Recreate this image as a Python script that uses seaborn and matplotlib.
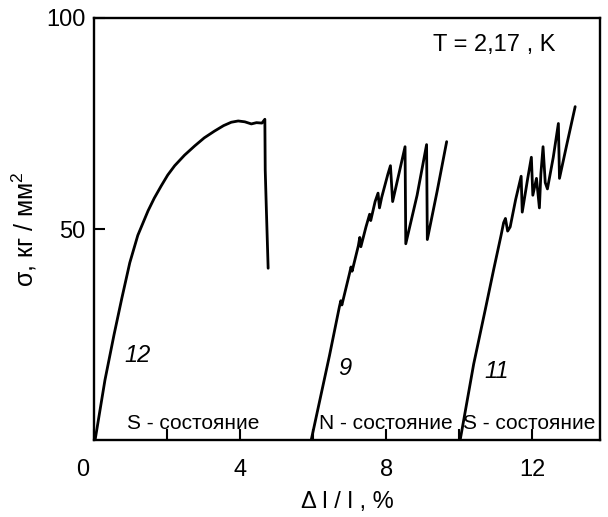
import numpy as np
import pandas as pd
import matplotlib
matplotlib.use("Agg")
import matplotlib.pyplot as plt
import matplotlib.transforms as mtrans
import seaborn as sns

# ---- data ----
c12_x = [0.03, 0.30, 0.55, 0.76, 0.98, 1.20, 1.48, 1.65, 1.84, 2.02, 2.21, 2.48, 2.76, 3.02, 3.30, 3.55,
         3.76, 3.95, 4.13, 4.31, 4.45, 4.60, 4.68, 4.69, 4.72, 4.77]
c12_y = [0.0, 14.2, 25.0, 33.5, 42.0, 48.5, 54.3, 57.3, 60.2, 62.8, 65.0, 67.5, 69.7, 71.6, 73.2, 74.5,
         75.3, 75.6, 75.4, 74.9, 75.2, 75.1, 76.0, 64.0, 55.0, 40.7]

c9_x = [5.95, 6.20, 6.45, 6.72, 6.76, 6.79, 7.00, 7.04, 7.07, 7.24, 7.28, 7.31, 7.45, 7.55, 7.58,
        7.70, 7.78, 7.82, 7.88, 8.05, 8.12, 8.18, 8.35, 8.52, 8.54, 8.85, 9.11, 9.13, 9.40, 9.66]
c9_y = [0.0, 10.0, 20.0, 31.5, 33.0, 32.0, 39.5, 41.0, 40.0, 46.0, 48.0, 45.8, 50.5, 53.5, 52.0,
        56.5, 58.5, 55.0, 57.5, 63.0, 65.0, 56.5, 63.0, 69.5, 46.5, 58.0, 70.0, 47.5, 59.0, 70.7]

c11_x = [10.03, 10.40, 10.72, 10.95, 11.15, 11.22, 11.27, 11.33, 11.40, 11.55, 11.70, 11.73, 11.88,
         11.98, 12.02, 12.12, 12.20, 12.24, 12.30, 12.36, 12.42, 12.58, 12.72, 12.75, 12.95, 13.18]
c11_y = [0.0, 18.0, 31.0, 40.5, 48.5, 51.5, 52.5, 49.5, 50.5, 57.0, 62.5, 54.0, 62.0,
         67.0, 58.0, 62.0, 55.0, 63.0, 69.5, 61.0, 59.5, 67.0, 75.0, 62.0, 70.0, 79.0]

curve_names = ["12", "9", "11"]
curve_label_pos = [(1.18, 20.1), (6.88, 17.0), (11.04, 16.3)]
state_labels = ["S - состояние", "N - состояние", "S - состояние"]
state_label_x = [2.71, 8.0, 11.92]
state_label_y = 4.0

x_ticks = [0, 4, 8, 12]
x_minor = [2, 6, 10]
y_ticks = [50, 100]

title_text = "T = 2,17 , K"
xlabel = "Δ l / l , %"
ylabel = "σ, кг / мм$^2$"

# ---- build dataframe ----
frames = []
for name, xs, ys in zip(curve_names, [c12_x, c9_x, c11_x], [c12_y, c9_y, c11_y]):
    frames.append(pd.DataFrame({"x": xs, "y": ys, "curve": "c" + name}))
df = pd.concat(frames, ignore_index=True)

sns.set_theme(style="white")
plt.rcParams["font.family"] = ["Liberation Sans", "DejaVu Sans"]
plt.rcParams["mathtext.fontset"] = "custom"
plt.rcParams["mathtext.rm"] = "Liberation Sans"
plt.rcParams["mathtext.it"] = "Liberation Sans:italic"
plt.rcParams["text.color"] = "black"
plt.rcParams["axes.labelcolor"] = "black"

fig = plt.figure(figsize=(6.08, 5.17), dpi=100)
ax = fig.add_axes([94 / 608, 77 / 517, 506 / 608, 422 / 517])

sns.lineplot(data=df, x="x", y="y", units="curve", estimator=None, sort=False,
             color="black", linewidth=2.0, ax=ax, legend=False)

ax.set_xlim(0, 13.86)
ax.set_ylim(0, 100)

ax.set_xticks(x_ticks)
ax.set_xticks(x_minor, minor=True)
ax.set_yticks(y_ticks)
ax.set_xticklabels([str(t) for t in x_ticks])
ax.set_yticklabels([str(t) for t in y_ticks])
ax.tick_params(axis="both", which="both", direction="in", length=8, width=1.5,
               labelsize=17, colors="black", bottom=True, left=True, top=False, right=False)
ax.tick_params(axis="x", pad=14)
ax.tick_params(axis="y", pad=6)

lbl0 = ax.get_xticklabels()[0]
lbl0.set_transform(lbl0.get_transform() + mtrans.ScaledTranslation(-11 / 100, 0, fig.dpi_scale_trans))

for s in ax.spines.values():
    s.set_color("black")
    s.set_linewidth(1.7)

ax.set_xlabel(xlabel, fontsize=17, labelpad=7, color="black")
ax.set_ylabel(ylabel, fontsize=18, labelpad=5, color="black")

for name, (px, py) in zip(curve_names, curve_label_pos):
    ax.text(px, py, name, fontsize=17, fontstyle="italic", family="Liberation Sans",
            ha="center", va="center", color="black")

for txt, sx in zip(state_labels, state_label_x):
    ax.text(sx, state_label_y, txt, fontsize=15, ha="center", va="center", color="black")

ax.text(10.96, 93.6, title_text, fontsize=17, ha="center", va="center", color="black")

fig.savefig("out.png", dpi=100)
